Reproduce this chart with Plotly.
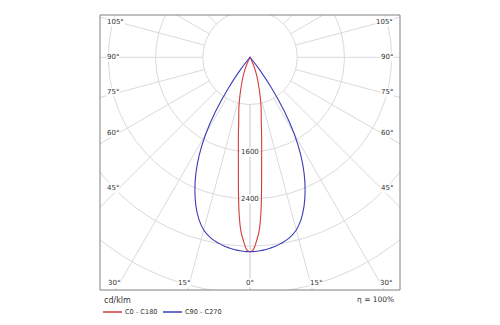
import numpy as np
import plotly.graph_objects as go

# Luminous intensity half-profiles (cd/klm) versus gamma angle from nadir.
# Both planes are symmetric, so each side of the curve uses the same values.
gamma_deg = [0, 1, 2, 3, 4, 5, 6, 7, 8, 9, 10, 12.5, 15, 17.5, 20, 22.5,
             25, 27.5, 30, 32.5, 35, 37.5, 40, 42.5, 45, 90]
c0_c180 = [3295, 3260, 3120, 2950, 2650, 2250, 1880, 1620, 1420, 1250, 1100,
           870, 650, 470, 340, 220, 120, 50, 10, 0, 0, 0, 0, 0, 0, 0]
c90_c270 = [3295, 3294, 3290, 3284, 3276, 3266, 3254, 3240, 3224, 3206, 3186,
            3125, 3030, 2880, 2680, 2440, 2170, 1860, 1500, 1080, 640, 280,
            70, 10, 0, 0]

series_names = ["C0 - C180", "C90 - C270"]
series_colors = ["#d43c3c", "#3c3cb8"]

ring_values = [800, 1600, 2400, 3200, 4000, 4800]
ring_labels = [1600, 2400]
spoke_angles = list(range(0, 181, 15))
side_angle_labels = [45, 60, 75, 90, 105]
bottom_angle_labels = [0, 15, 30]
efficiency_text = "η = 100%"
unit_text = "cd/klm"

# Visible window of the diagram in cd/klm (x symmetric, nadir downwards)
X_HALF = 2542
Y_TOP = 717
Y_BOTTOM = -3944
PX_PER_UNIT = 300 / (2 * X_HALF)

GRID = "#dadada"
TEXT = "#333333"
FONT = "DejaVu Sans"


def to_xy(angles_deg, values):
    a = np.radians(np.asarray(angles_deg, dtype=float))
    v = np.asarray(values, dtype=float)
    return v * np.sin(a), -v * np.cos(a)


fig = go.Figure()

# Concentric intensity rings
t = np.linspace(0, 2 * np.pi, 361)
for rv in ring_values:
    fig.add_trace(go.Scatter(x=rv * np.cos(t), y=rv * np.sin(t), mode="lines",
                             line=dict(color=GRID, width=1), hoverinfo="skip",
                             showlegend=False))

# Angle spokes, starting at the first ring
for ang in spoke_angles:
    for side in (-1, 1):
        xs, ys = to_xy([side * ang, side * ang], [ring_values[0], 8000])
        fig.add_trace(go.Scatter(x=xs, y=ys, mode="lines",
                                 line=dict(color=GRID, width=1),
                                 hoverinfo="skip", showlegend=False))

# Intensity curves, mirrored about the nadir
for vals, name, col in zip([c0_c180, c90_c270], series_names, series_colors):
    ang_full = [-g for g in gamma_deg[::-1]] + gamma_deg[1:]
    val_full = vals[::-1] + vals[1:]
    xs, ys = to_xy(ang_full, val_full)
    fig.add_trace(go.Scatter(x=xs, y=ys, mode="lines", name=name,
                             line=dict(color=col, width=1.1, shape="spline",
                                       smoothing=0.6),
                             showlegend=False))

annotations = []
# Ring value labels along the nadir spoke
for rv in ring_labels:
    annotations.append(dict(x=0, y=-rv, text=str(rv), showarrow=False,
                            xanchor="center", yanchor="middle",
                            bgcolor="white", borderpad=0,
                            font=dict(family=FONT, size=7, color=TEXT)))

# Angle labels on the left and right edges
inset_x = X_HALF - 19 / PX_PER_UNIT
label_x = X_HALF - 6 / PX_PER_UNIT
for ang in side_angle_labels:
    y = -inset_x / np.tan(np.radians(ang)) if ang != 90 else 0.0
    for side in (-1, 1):
        annotations.append(dict(x=side * label_x, y=y, text=f"{ang}°",
                                showarrow=False,
                                xanchor="left" if side < 0 else "right",
                                yanchor="middle", bgcolor="white",
                                borderpad=0,
                                font=dict(family=FONT, size=7, color=TEXT)))

# Angle labels along the bottom edge
inset_y = Y_BOTTOM + 7 / PX_PER_UNIT
for ang in bottom_angle_labels:
    x = -inset_y * np.tan(np.radians(ang))
    if ang == 0:
        annotations.append(dict(x=0, y=inset_y, text="0°", showarrow=False,
                                xanchor="center", yanchor="middle",
                                bgcolor="white", borderpad=0,
                                font=dict(family=FONT, size=7, color=TEXT)))
        continue
    for side in (-1, 1):
        annotations.append(dict(x=side * x, y=inset_y, text=f"{ang}°",
                                showarrow=False,
                                xanchor="right" if side < 0 else "left",
                                xshift=-1.5 * side, yanchor="middle",
                                bgcolor="white", borderpad=0,
                                font=dict(family=FONT, size=7, color=TEXT)))


# Unit, efficiency and legend below the frame (paper coordinates)
def px_x(px):
    return (px - 100) / 300


def px_y(py):
    return (290 - py) / 275


annotations.append(dict(x=px_x(102), y=px_y(300), xref="paper", yref="paper",
                        text=unit_text, showarrow=False, xanchor="left",
                        yanchor="middle",
                        font=dict(family=FONT, size=8, color=TEXT)))
annotations.append(dict(x=px_x(396), y=px_y(299), xref="paper", yref="paper",
                        text=efficiency_text, showarrow=False,
                        xanchor="right", yanchor="middle",
                        font=dict(family=FONT, size=7.5, color=TEXT)))

shapes = [dict(type="rect", xref="paper", yref="paper", x0=0, y0=0, x1=1,
               y1=1, line=dict(color="#808080", width=1),
               fillcolor="rgba(0,0,0,0)", layer="above")]

legend_starts = [103, 163]
for x0, name, col in zip(legend_starts, series_names, series_colors):
    shapes.append(dict(type="line", xref="paper", yref="paper",
                       x0=px_x(x0), x1=px_x(x0 + 19), y0=px_y(312),
                       y1=px_y(312), line=dict(color=col, width=1.5)))
    annotations.append(dict(x=px_x(x0 + 20), y=px_y(312), xref="paper",
                            yref="paper", text=name, showarrow=False,
                            xanchor="left", yanchor="middle",
                            font=dict(family=FONT, size=6.6, color=TEXT)))

fig.update_layout(
    width=500, height=325, autosize=False,
    margin=dict(l=100, r=100, t=15, b=35, pad=0),
    paper_bgcolor="white", plot_bgcolor="white",
    xaxis=dict(range=[-X_HALF, X_HALF], visible=False, fixedrange=True),
    yaxis=dict(range=[Y_BOTTOM, Y_TOP], visible=False, fixedrange=True),
    annotations=annotations, shapes=shapes, showlegend=False,
)

fig.write_html("out.html")
